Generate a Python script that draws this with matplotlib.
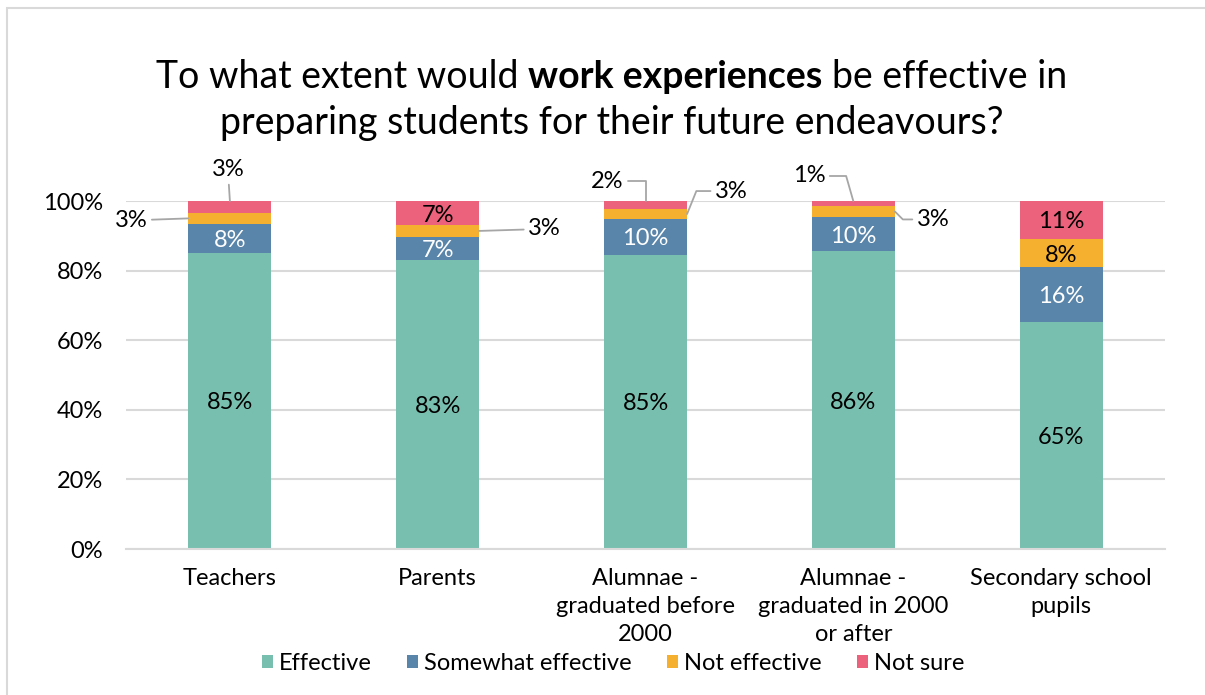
import numpy as np
import matplotlib.pyplot as plt
from matplotlib.patches import Rectangle
from matplotlib.ticker import PercentFormatter

plt.rcParams['font.family'] = ['Lato', 'DejaVu Sans']

# donnees (en %)
categories = ['Teachers', 'Parents', 'Alumnae -\ngraduated before\n2000',
              'Alumnae -\ngraduated in 2000\nor after', 'Secondary school\npupils']
series = ['Effective', 'Somewhat effective', 'Not effective', 'Not sure']
effective = [85.1, 83.0, 84.6, 85.6, 65.2]
somewhat = [8.3, 6.7, 10.2, 9.8, 15.8]
not_effective = [3.2, 3.4, 2.9, 3.2, 8.1]
not_sure = [3.4, 6.9, 2.3, 1.4, 10.9]

colors = ['#78BFB0', '#5A85AA', '#F6B02F', '#EC617B']
label_colors = ['black', 'white', 'black', 'black']
fs = 17

# etiquettes sorties de la barre : (decalage x barre, ancrage y, dx px, dy px, connexion)
callouts = {
    (0, 3): (0.0, 'top', -2, 31, 'arc3'),
    (0, 2): (-0.2, 'mid', -57, -2, 'arc3'),
    (1, 2): (0.2, 'mid', 65, 2, 'arc3'),
    (2, 3): (0.0, 'top', -38, 20, 'angle,angleA=0,angleB=90,rad=0'),
    (2, 2): (0.2, 'mid', 44, 23, 'angle,angleA=0,angleB=68,rad=0'),
    (3, 3): (0.0, 'top', -44, 25, 'angle,angleA=0,angleB=106,rad=0'),
    (3, 2): (0.2, 'mid', 38, -8, 'angle,angleA=0,angleB=-45,rad=0'),
}

W, H = 1205, 695
fig = plt.figure(figsize=(W / 100, H / 100), dpi=100)
ax = fig.add_axes([126 / W, 1 - 549 / H, 1039 / W, 348 / H])

x = np.arange(len(categories))
data = [effective, somewhat, not_effective, not_sure]
bottom = np.zeros(len(categories))
for s, (vals, name) in enumerate(zip(data, series)):
    v = np.array(vals) / 100
    ax.bar(x, v, 0.4, bottom=bottom, color=colors[s], label=name, zorder=2)
    for i in range(len(categories)):
        txt = f'{round(vals[i])}%'
        if (i, s) in callouts:
            dxb, mode, dx, dy, cs = callouts[(i, s)]
            yy = bottom[i] + v[i] if mode == 'top' else bottom[i] + v[i] / 2
            ax.annotate(txt, xy=(x[i] + dxb, yy), xytext=(dx, dy),
                        textcoords='offset pixels', ha='center', va='center',
                        fontsize=fs, color='black',
                        arrowprops=dict(arrowstyle='-', color='#A6A6A6', lw=1.3,
                                        connectionstyle=cs, shrinkA=1, shrinkB=0))
        else:
            ax.text(x[i], bottom[i] + v[i] / 2, txt, ha='center', va='center_baseline',
                    fontsize=fs, color=label_colors[s], zorder=3)
    bottom = bottom + v

ax.set_xlim(-0.5, len(categories) - 0.5)
ax.set_ylim(0, 1)
ax.set_yticks(np.arange(0, 1.01, 0.2))
ax.yaxis.set_major_formatter(PercentFormatter(1, decimals=0))
ax.set_xticks(x)
ax.set_xticklabels(categories, linespacing=1.4)
ax.tick_params(axis='both', length=0, labelsize=fs)
ax.tick_params(axis='y', pad=16.5)
ax.tick_params(axis='x', pad=14)
ax.grid(axis='y', color='#D9D9D9', lw=1.5)
ax.set_axisbelow(True)
for sp in ['top', 'right', 'left']:
    ax.spines[sp].set_visible(False)
ax.spines['bottom'].set_color('#D9D9D9')
ax.spines['bottom'].set_linewidth(1.5)

# titre avec une partie en gras
renderer = fig.canvas.get_renderer()
def largeur(s, w):
    t = fig.text(0, 0, s, fontsize=27, fontweight=w)
    wd = t.get_window_extent(renderer).width
    t.remove()
    return wd

pieces = [('To what extent would', 'normal'), ('work experiences', 'bold'),
          ('be effective in', 'normal')]
espace = largeur('x x', 'normal') - largeur('xx', 'normal')
widths = [largeur(s, w) for s, w in pieces]
total = sum(widths) + espace * (len(pieces) - 1)
xpos = 612 - total / 2
for (s, w), wd in zip(pieces, widths):
    fig.text(xpos / W, 1 - 88 / H, s, fontsize=27, fontweight=w, va='baseline', ha='left')
    xpos += wd + espace
fig.text(612 / W, 1 - 134 / H, 'preparing students for their future endeavours?',
         fontsize=27, va='baseline', ha='center')

fig.legend(*ax.get_legend_handles_labels(), loc='center', ncol=4,
           bbox_to_anchor=(613 / W, 1 - 663 / H), frameon=False, fontsize=fs,
           handlelength=0.47, handleheight=0.47, handletextpad=0.25,
           columnspacing=1.5)

# cadre gris du graphique
fig.add_artist(Rectangle((7 / W, -0.1), 1.1, 1.1 - 8 / H, transform=fig.transFigure,
                         fill=False, edgecolor='#D9D9D9', lw=1.5, clip_on=False))

fig.savefig('out.png', dpi=100)
